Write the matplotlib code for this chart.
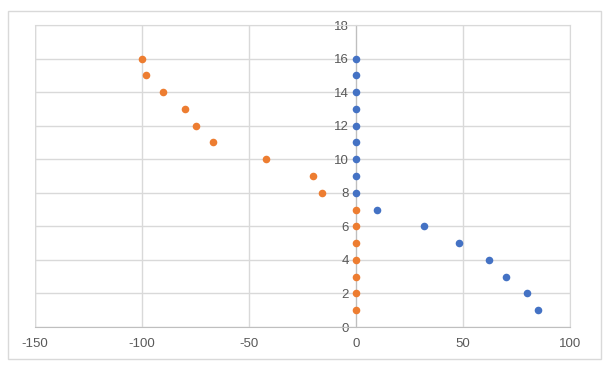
import matplotlib
matplotlib.use('Agg')
import matplotlib.pyplot as plt
from matplotlib.patches import Rectangle

# y level of each point
levels = list(range(1, 17))
blue_x = [85, 80, 70, 62, 48, 32, 10, 0, 0, 0, 0, 0, 0, 0, 0, 0]
orange_x = [0, 0, 0, 0, 0, 0, 0, -16, -20, -42, -67, -75, -80, -90, -98, -100]

x_ticks = [-150, -100, -50, 0, 50, 100]
y_ticks = list(range(0, 19, 2))

plt.rcParams['font.family'] = ['Liberation Sans', 'DejaVu Sans']
plt.rcParams['axes.unicode_minus'] = False

fig = plt.figure(figsize=(6.11, 3.69), dpi=100)
fig.patches.append(Rectangle((8 / 611, 1 - 359 / 369), 593 / 611, 348 / 369,
                             transform=fig.transFigure, fill=False,
                             edgecolor='#d9d9d9', linewidth=1))
ax = fig.add_axes([35 / 611, 1 - 327 / 369, 535 / 611, 302 / 369])

ax.scatter(blue_x, levels, s=30, color='#4472C4', zorder=3, linewidths=0)
ax.scatter(orange_x, levels, s=30, color='#ED7D31', zorder=3, linewidths=0)

ax.set_xlim(-150, 100)
ax.set_ylim(0, 18)
ax.set_xticks(x_ticks)
ax.set_yticks(y_ticks)
ax.grid(True, color='#d9d9d9', linewidth=1)
ax.set_axisbelow(True)

for side in ['top', 'right']:
    ax.spines[side].set_color('#d9d9d9')
ax.spines['bottom'].set_color('#bfbfbf')
ax.spines['left'].set_position(('data', 0))
ax.spines['left'].set_color('#bfbfbf')

ax.tick_params(length=0, labelsize=9.5, labelcolor='#595959')
ax.tick_params(axis='x', pad=8)
ax.tick_params(axis='y', pad=5)

# left frame line at -150
ax.axvline(-150, color='#d9d9d9', linewidth=1, zorder=0)

fig.savefig('out.png', dpi=100)
